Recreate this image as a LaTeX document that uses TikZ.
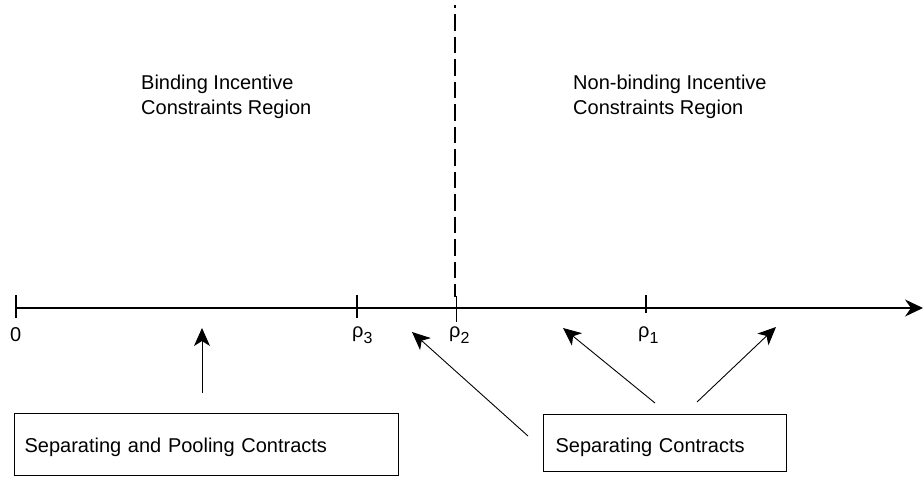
\documentclass[tikz,border=0pt]{standalone}
\usepackage{fontspec}
\setmainfont{Liberation Sans}
\usetikzlibrary{arrows.meta}
\begin{document}
\begin{tikzpicture}[x=1pt,y=-1pt,
  every node/.style={inner sep=0pt, font=\fontsize{20}{25}\selectfont},
  axisline/.style={line width=1.3pt, -{Stealth[length=18pt,width=17pt,inset=6pt]}},
  tickline/.style={line width=1.1pt},
  divider/.style={line width=1.1pt, dash pattern=on 16.5pt off 6pt, dash phase=13.5pt},
  pointer/.style={line width=0.9pt, -{Stealth[length=18pt,width=16pt,inset=5pt]}},
  contractbox/.style={draw, line width=1.2pt, anchor=north west, align=left, inner xsep=10pt, inner ysep=0pt},
  ticklabel/.style={anchor=base west},
  regionlabel/.style={anchor=north west, align=left}
]
\useasboundingbox (0,0) rectangle (923,477);
\fill[white] (0,0) rectangle (923,477);

% axis
\coordinate (axstart) at (16,308);
\coordinate (axend) at (923,308);
\draw[axisline] (axstart) -- (axend);

% ticks
\coordinate (t0a) at (16,295);   \coordinate (t0b) at (16,318);
\coordinate (t3a) at (357,295);  \coordinate (t3b) at (357,318);
\coordinate (t2a) at (456.5,296);\coordinate (t2b) at (456.5,322);
\coordinate (t1a) at (646,295);  \coordinate (t1b) at (646,313);
\draw[tickline] (t0a) -- (t0b);
\draw[tickline] (t3a) -- (t3b);
\draw[tickline] (t2a) -- (t2b);
\draw[tickline] (t1a) -- (t1b);

% dashed divider
\coordinate (dtop) at (455,5);
\coordinate (dbot) at (455,297);
\draw[divider] (dtop) -- (dbot);

% tick labels
\node[ticklabel] (l0) at (10,341) {0};
\node[ticklabel] (l3) at (352,337) {ρ\raisebox{-6pt}{\fontsize{16}{16}\selectfont 3}};
\node[ticklabel] (l2) at (449,337) {ρ\raisebox{-6pt}{\fontsize{16}{16}\selectfont 2}};
\node[ticklabel] (l1) at (638,337) {ρ\raisebox{-6pt}{\fontsize{16}{16}\selectfont 1}};

% region labels
\node[regionlabel] (bind) at (141,74.5) {Binding Incentive\\Constraints Region};
\node[regionlabel] (nonbind) at (573,74.5) {Non-binding Incentive\\Constraints Region};

% boxes
\node[contractbox, text width=364pt, text height=39pt, text depth=23pt] (b1) at (14,413) {Separating and Pooling Contracts};
\node[contractbox, text width=219pt, inner xsep=12pt, text height=38pt, text depth=19pt] (b2) at (543,414) {Separating Contracts};

% pointers
\coordinate (pa1) at (202,393); \coordinate (pa2) at (202,328);
\coordinate (pb1) at (528,436); \coordinate (pb2) at (412,332);
\coordinate (pc1) at (655,403); \coordinate (pc2) at (563,328);
\coordinate (pd1) at (697,402); \coordinate (pd2) at (776,327);
\draw[pointer] (pa1) -- (pa2);
\draw[pointer] (pb1) -- (pb2);
\draw[pointer] (pc1) -- (pc2);
\draw[pointer] (pd1) -- (pd2);
\end{tikzpicture}
\end{document}
